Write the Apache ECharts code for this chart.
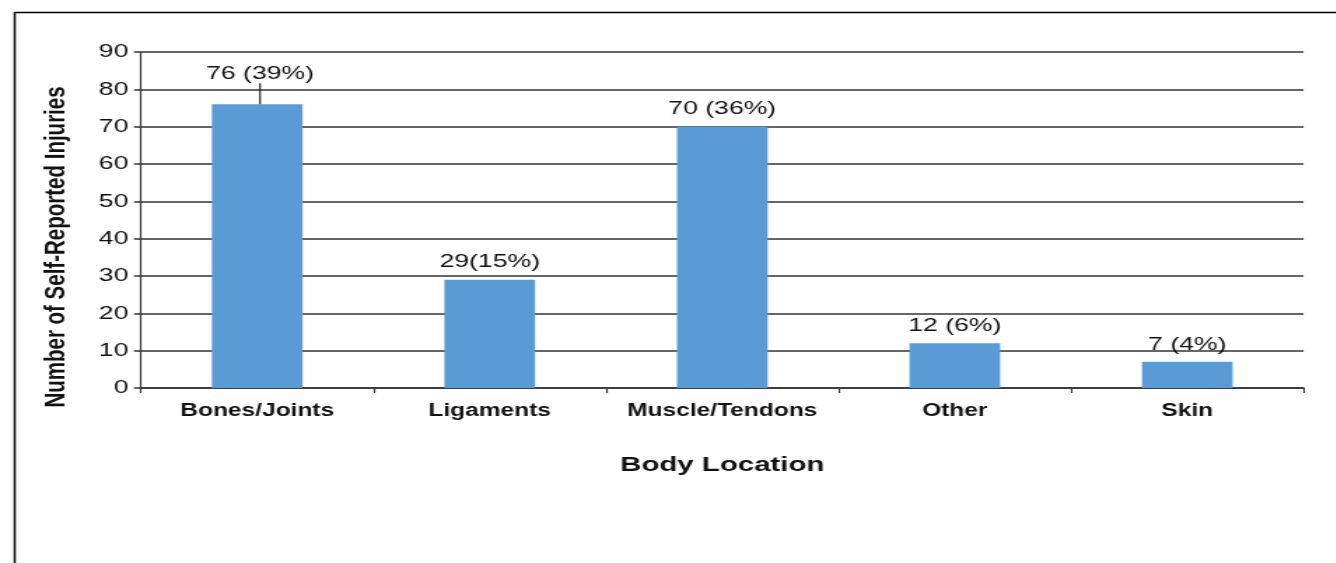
<!DOCTYPE html>
<html lang="en">
<head>
    <meta charset="UTF-8">
    <title>injuries</title>
    <script src="https://cdn.jsdelivr.net/npm/echarts@6/dist/echarts.min.js"></script>
    <style>
        html, body { margin: 0; padding: 0; background: #fff; overflow: hidden; }
        /* the original figure is stretched sideways, so draw narrow and widen it */
        #chart { width: 954px; height: 563px; transform: scaleX(1.4); transform-origin: 0 0; }
    </style>
</head>
<body>
    <div id="chart"></div>
</body>
<script type="application/javascript">

    var categories = ["Bones/Joints", "Ligaments", "Muscle/Tendons", "Other", "Skin"];
    var counts = [76, 29, 70, 12, 7];
    var labels = ["76 (39%)", "29(15%)", "70 (36%)", "12 (6%)", "7 (4%)"];
    var yTicks = [0, 10, 20, 30, 40, 50, 60, 70, 80, 90];

    var chart = echarts.init(document.getElementById("chart"));

    var barData = [];
    for (var i = 0; i < counts.length; i++) {
        var item = { value: counts[i] };
        if (i === 0) {
            // first label sits higher with a small leader line
            item.labelLine = { show: true, lineStyle: { color: "#222", width: 1.2 } };
        }
        barData.push(item);
    }

    var font = "Liberation Sans, Arial";

    var option = {
        animation: false,
        graphic: [{
            type: "rect",
            left: 8, top: 10,
            shape: { width: 1400, height: 600 },
            style: { fill: "none", stroke: "#000", lineWidth: 1.5 }
        }],
        grid: { left: 100.7, right: 22.9, top: 52, bottom: 175 },
        xAxis: {
            type: "category",
            data: categories,
            name: "Body Location",
            nameLocation: "middle",
            nameGap: 67,
            nameTextStyle: { fontFamily: font, fontWeight: "bold", fontSize: 21, color: "#111" },
            axisLine: { lineStyle: { color: "#333", width: 1.5 } },
            axisTick: { show: true, length: 5, lineStyle: { color: "#333", width: 1.2 } },
            axisLabel: { interval: 0, fontFamily: font, fontWeight: "bold", fontSize: 17.5, color: "#111", margin: 14 }
        },
        yAxis: {
            type: "value",
            min: 0, max: 90, interval: 10,
            name: "Number of Self-Reported Injuries",
            nameLocation: "middle",
            nameGap: 50,
            // right padding pushes the rotated title a bit lower, as in the original
            nameTextStyle: { fontFamily: font, fontWeight: "bold", fontSize: 20.5, color: "#111", padding: [0, 54, 0, 0] },
            axisLine: { show: true, lineStyle: { color: "#333", width: 1.2 } },
            axisTick: { show: true, length: 5, lineStyle: { color: "#333", width: 1.5 } },
            axisLabel: {
                fontFamily: font, fontSize: 19, color: "#111", margin: 9,
                formatter: function (v) { return yTicks.indexOf(v) >= 0 ? String(v) : ""; }
            },
            splitLine: { show: true, lineStyle: { color: "#333", width: 1.5 } }
        },
        series: [{
            type: "bar",
            data: barData,
            barWidth: "39%",
            itemStyle: { color: "#5B9BD5" },
            label: {
                show: true,
                position: "top",
                distance: 8,
                fontFamily: font,
                fontSize: 19,
                color: "#111",
                formatter: function (p) { return labels[p.dataIndex]; }
            },
            labelLayout: function (p) {
                if (p.dataIndex === 0) {
                    return { dy: -13, dx: 2 };
                }
                return {};
            }
        }]
    };
    chart.setOption(option);
</script>
</html>
